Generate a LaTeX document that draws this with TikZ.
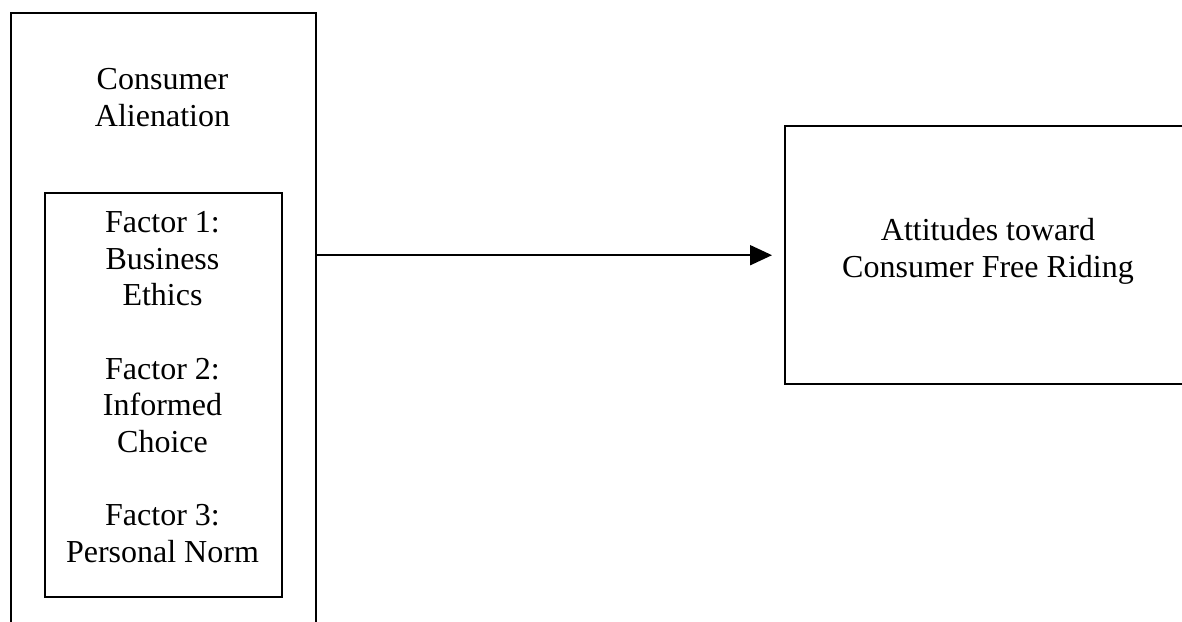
\documentclass[tikz,border=0pt]{standalone}
\usepackage{fontspec}
\setmainfont{Liberation Serif}
\usetikzlibrary{arrows.meta}

\begin{document}
\begin{tikzpicture}[x=0.5pt, y=-0.5pt]

	\tikzset{mybox/.style={draw=black, line width=1.2pt, rectangle, inner sep=0pt, anchor=north west}}
	\tikzset{mytext/.style={align=center, inner sep=0pt, anchor=base, font=\fontsize{16}{18.3}\selectfont}}
	\tikzset{myblackarrow/.style={-{Triangle[length=11pt, width=10pt]}, black, line width=1pt, shorten >=6pt}}

	% page size
	\useasboundingbox (0,0) rectangle (1182,621);
	\clip (0,0) rectangle (1182,621);

	%left outer box and inner factor box
	\node[mybox, minimum width=152.5pt, minimum height=324pt] (alien) at (10,12) {};
	\node[mybox, minimum width=118.5pt, minimum height=202pt] (factors) at (44,192) {};

	%right box
	\node[mybox, minimum width=210pt, minimum height=129pt] (attitudes) at (784,125) {};

	% texts, placed at the baseline of their last line
	\node[mytext] (alientitle) at (162.5,126) {Consumer\\Alienation};
	\node[mytext] (factorlist) at (162.5,562) {Factor 1:\\Business\\Ethics\\[18.3pt]Factor 2:\\Informed\\Choice\\[18.3pt]Factor 3:\\Personal Norm};
	\node[mytext] (attitudestitle) at (988,277) {Attitudes toward\\Consumer Free Riding};

	\draw[myblackarrow] (attitudes.west -| alien.east) -- (attitudes.west);

\end{tikzpicture}
\end{document}
